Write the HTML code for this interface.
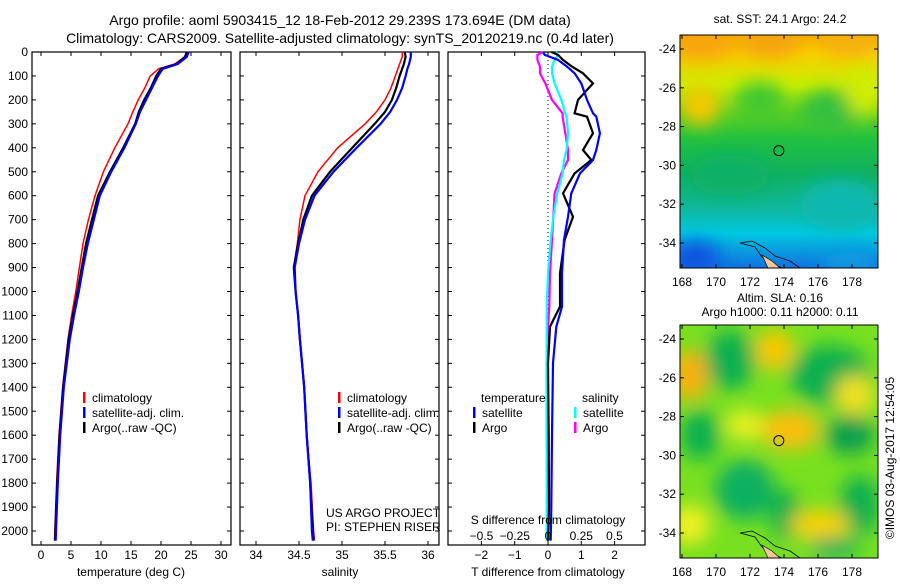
<!DOCTYPE html>
<html><head><meta charset="utf-8"><style>
body{margin:0;background:#fff;}
svg{font-family:"Liberation Sans",sans-serif;}
</style></head><body>
<svg id="c" width="900" height="580" xmlns="http://www.w3.org/2000/svg">
<defs>
<filter id="bl" x="-20%" y="-20%" width="140%" height="140%"><feGaussianBlur stdDeviation="9"/></filter>
<clipPath id="m1"><rect x="680" y="35" width="198" height="233"/></clipPath>
<clipPath id="m2"><rect x="680" y="325" width="198" height="233"/></clipPath>
<linearGradient id="g1" x1="0" y1="0" x2="0" y2="1">
<stop offset="0" stop-color="#f5a800"/><stop offset="0.08" stop-color="#f8d000"/><stop offset="0.22" stop-color="#c8ee00"/>
<stop offset="0.33" stop-color="#60d020"/><stop offset="0.45" stop-color="#20c040"/><stop offset="0.6" stop-color="#10b060"/>
<stop offset="0.75" stop-color="#10b8a0"/><stop offset="0.85" stop-color="#00c8e0"/><stop offset="1" stop-color="#1070e0"/>
</linearGradient>
</defs>
<text x="340" y="25" text-anchor="middle" font-size="14">Argo profile: aoml 5903415_12 18-Feb-2012 29.239S 173.694E (DM data)</text>
<text x="340" y="43" text-anchor="middle" font-size="14">Climatology: CARS2009. Satellite-adjusted climatology: synTS_20120219.nc (0.4d later)</text>
<g id="maps"></g>
<g id="panels"></g>
<text transform="translate(894,458) rotate(-90)" text-anchor="middle" font-size="12">©IMOS 03-Aug-2017 12:54:05</text>
</svg>
<script>
const NS="http://www.w3.org/2000/svg";
const depths=[0,20,50,70,100,150,200,250,300,400,500,600,700,800,900,1000,1100,1200,1400,1600,1800,2000,2040];
const tempArgo=[24.3,24.0,22.6,20.0,19.2,18.3,17.2,16.3,15.7,13.7,11.5,9.5,8.5,7.5,6.8,6.1,5.3,4.6,3.7,3.1,2.7,2.4,2.35];
const tempSat=[24.6,24.3,22.8,20.3,19.5,18.5,17.5,16.5,15.8,13.9,11.7,9.8,8.8,7.8,7.0,6.3,5.5,4.8,3.8,3.2,2.8,2.5,2.45];
const tempClim=[24.3,24.0,22.3,19.6,18.2,17.3,16.2,15.3,14.5,12.3,10.4,9.0,7.9,7.0,6.4,5.8,5.1,4.5,3.6,3.0,2.6,2.3,2.25];
const salArgo=[35.73,35.74,35.72,35.70,35.67,35.63,35.58,35.50,35.38,35.12,34.86,34.65,34.55,34.49,34.44,34.46,34.49,34.51,34.56,34.59,34.63,34.66,34.67];
const salSat=[35.80,35.80,35.78,35.76,35.74,35.70,35.64,35.56,35.45,35.17,34.90,34.68,34.57,34.50,34.45,34.46,34.49,34.51,34.56,34.59,34.63,34.65,34.66];
const salClim=[35.70,35.70,35.67,35.65,35.62,35.57,35.50,35.40,35.27,34.95,34.72,34.57,34.51,34.48,34.44,34.46,34.49,34.51,34.56,34.59,34.64,34.67,34.68];
const dDepths=[0,12,33,61,89,131,200,256,270,339,409,451,507,590,688,785,924,1063,1147,1300,1600,1900,2040];
const dTArgo=[0.1,0.3,0.45,0.72,1.05,1.35,0.9,0.8,1.17,1.35,1.05,1.3,0.8,0.45,0.75,0.5,0.36,0.36,0.06,0.0,0.02,0.03,0.0];
const dTSat=[-0.15,-0.1,0.3,0.57,0.8,1.0,1.17,1.35,1.45,1.56,1.45,1.35,0.96,0.7,0.6,0.48,0.42,0.42,0.25,0.15,0.12,0.1,0.08];
const dSArgo=[-0.04,-0.08,-0.08,-0.06,-0.06,-0.02,0.03,0.11,0.11,0.13,0.15,0.15,0.1,0.05,0.04,0.03,0.015,0.01,0.0,-0.01,-0.01,0.0,0.0];
const dSSat=[0.06,0.075,0.05,0.03,0.03,0.05,0.1,0.13,0.14,0.15,0.14,0.12,0.11,0.07,0.04,0.02,0.0,-0.01,-0.01,-0.01,-0.01,-0.01,-0.01];
const depthTicks=[0,100,200,300,400,500,600,700,800,900,1000,1100,1200,1300,1400,1500,1600,1700,1800,1900,2000];
const tTicks=[0,5,10,15,20,25,30];
const sTicks=[34,34.5,35,35.5,36];
const sTickLabels=["34","34.5","35","35.5","36"];
const dTTicks=[-2,-1,0,1,2];
const dSTicks=[-0.5,-0.25,0,0.25,0.5];
const dSTickLabels=["\u22120.5","\u22120.25","0","0.25","0.5"];
const lonTicks=[168,170,172,174,176,178];
const latTicks=[-24,-26,-28,-30,-32,-34];
const argoLon=173.694, argoLat=-29.239;

const Y=d=>52+d*0.2395;
const TOP=52,BOT=545;
function el(tag,attrs,parent,text){const e=document.createElementNS(NS,tag);for(const k in attrs)e.setAttribute(k,attrs[k]);if(text!==undefined)e.textContent=text;parent.appendChild(e);return e;}
const P=document.getElementById('panels');

function frame(x0,x1,name){
  const r=el('rect',{x:x0,y:TOP,width:x1-x0,height:BOT-TOP,fill:'#fff',stroke:'#000','stroke-width':1.2},P);
  
  
}
function line(xs,ds,X,color,w,name){
  const pts=xs.map((v,i)=>X(v).toFixed(1)+','+Y(ds[i]).toFixed(1)).join(' ');
  const p=el('polyline',{points:pts,fill:'none',stroke:color,'stroke-width':w,'stroke-linejoin':'miter'},P);
  
  
}
function xticks(ticks,labels,X,x0,x1,ly,name){
  ticks.forEach((t,i)=>{
    const x=X(t);
    el('line',{x1:x,x2:x,y1:BOT,y2:BOT-4,stroke:'#000'},P);
    el('line',{x1:x,x2:x,y1:TOP,y2:TOP+4,stroke:'#000'},P);
    const tx=el('text',{x:x,y:ly,'text-anchor':'middle','font-size':12},P,labels[i]);
    
    
  });
}
function yticks(x0,x1,labels){
  depthTicks.forEach(d=>{
    const y=Y(d);
    el('line',{x1:x0,x2:x0+4,y1:y,y2:y,stroke:'#000'},P);
    el('line',{x1:x1,x2:x1-4,y1:y,y2:y,stroke:'#000'},P);
    if(labels){const t=el('text',{x:x0-4,y:y+4,'text-anchor':'end','font-size':12},P,String(d));
      
      }
  });
}
function legend(x,y,items,name){
  items.forEach((it,i)=>{
    const yy=y+i*15;
    el('rect',{x:x,y:yy-9,width:2.5,height:11,fill:it[0]},P);
    const t=el('text',{x:x+9,y:yy+1,'font-size':12},P,it[1]);
    
    
  });
}
function label(x,y,txt,name,anchor){const t=el('text',{x:x,y:y,'font-size':12,'text-anchor':anchor||'middle'},P,txt);
  
  }

// Panel 1 temperature
const XT=t=>41+6*t;
frame(32,231,'temperature-panel');
yticks(32,231,true);
xticks(tTicks,tTicks.map(String),XT,32,231,559,'temperature');
line(tempClim,depths,XT,'#f00',1.5,'temperature-climatology-line');
line(tempArgo,depths,XT,'#000',2.2,'temperature-argo-line');
line(tempSat,depths,XT,'#00f',2.2,'temperature-satellite-line');
legend(83,401,[['#f00','climatology'],['#00f','satellite-adj. clim.'],['#000','Argo(..raw -QC)']],'temperature-legend');
label(131,576,'temperature (deg C)','temperature-axis-title');

// Panel 2 salinity
const XS=s=>256+86*(s-34);
frame(240,439,'salinity-panel');
yticks(240,439,false);
xticks(sTicks,sTickLabels,XS,240,439,559,'salinity');
line(salClim,depths,XS,'#f00',1.5,'salinity-climatology-line');
line(salArgo,depths,XS,'#000',2.2,'salinity-argo-line');
line(salSat,depths,XS,'#00f',2.2,'salinity-satellite-line');
legend(338,401,[['#f00','climatology'],['#00f','satellite-adj. clim.'],['#000','Argo(..raw -QC)']],'salinity-legend');
label(326,517,'US ARGO PROJECT','project-label','start');
label(326,531,'PI: STEPHEN RISER','pi-label','start');
label(340,576,'salinity','salinity-axis-title');

// Panel 3 differences
const XD=v=>548+33.3*v;
const XDS=v=>548+133*v;
frame(448,645,'difference-panel');
yticks(448,645,false);
xticks(dTTicks,dTTicks.map(v=>v<0?'\u2212'+(-v):String(v)),XD,448,645,559,'t-difference');
el('line',{x1:548,x2:548,y1:TOP,y2:BOT,stroke:'#000','stroke-dasharray':'1,3'},P);
line(dSArgo,dDepths,XDS,'#f0f',2.2,'salinity-argo-difference-line');
line(dSSat,dDepths,XDS,'#0ff',2.2,'salinity-satellite-difference-line');
line(dTArgo,dDepths,XD,'#000',2.2,'temperature-argo-difference-line');
line(dTSat,dDepths,XD,'#00f',2.2,'temperature-satellite-difference-line');
label(481,402,'temperature','diff-legend-temperature-header','start');
label(582,402,'salinity','diff-legend-salinity-header','start');
legend(473,416,[['#00f','satellite'],['#000','Argo']],'diff-legend-temperature');
legend(574,416,[['#0ff','satellite'],['#f0f','Argo']],'diff-legend-salinity');
label(548,524,'S difference from climatology','s-difference-axis-title');
dSTicks.forEach((t,i)=>{const tx=el('text',{x:XDS(t),y:540,'text-anchor':'middle','font-size':12},P,dSTickLabels[i]);
  
  });
label(548,576,'T difference from climatology','t-difference-axis-title');

// Maps
const M=document.getElementById('maps');
function drawMap(y0,clip,bgFill,blobs,name){
  const g=el('g',{'clip-path':'url(#'+clip+')'},M);
  
  
  el('rect',{x:680,y:y0,width:198,height:233,fill:bgFill},g);
  const bg2=el('g',{filter:'url(#bl)'},g);
  blobs.forEach(b=>el('ellipse',{cx:b[0],cy:y0+b[1],rx:b[2],ry:b[3],fill:b[4]},bg2));
  el('path',{d:`M740 ${y0+208} L755 ${y0+212} L762 ${y0+222} L770 ${y0+228} L782 ${y0+233} L800 ${y0+233} L790 ${y0+226} L775 ${y0+221} L765 ${y0+213} L752 ${y0+206} Z`,fill:'none',stroke:'#000','stroke-width':0.8},g);
  el('path',{d:`M762 ${y0+220} L772 ${y0+226} L780 ${y0+233} L768 ${y0+233} Z`,fill:'#f7c79a',stroke:'#000','stroke-width':0.6},g);
  const X=l=>682+17*(l-168), YY=l=>y0+14+19.4*(-24-l);
  el('rect',{x:680,y:y0,width:198,height:233,fill:'none',stroke:'#000','stroke-width':1},M);
  lonTicks.forEach(l=>{el('line',{x1:X(l),x2:X(l),y1:y0,y2:y0+4,stroke:'#000'},M);el('line',{x1:X(l),x2:X(l),y1:y0+233,y2:y0+229,stroke:'#000'},M);
    const t=el('text',{x:X(l),y:y0+251,'text-anchor':'middle','font-size':12},M,String(l));
    
    });
  latTicks.forEach(l=>{el('line',{x1:680,x2:684,y1:YY(l),y2:YY(l),stroke:'#000'},M);el('line',{x1:878,x2:874,y1:YY(l),y2:YY(l),stroke:'#000'},M);
    const t=el('text',{x:676,y:YY(l)+4,'text-anchor':'end','font-size':12},M,'-'+(-l));
    
    });
  const c=el('circle',{cx:X(argoLon),cy:YY(argoLat),r:5,fill:'none',stroke:'#000','stroke-width':1},M);
  
  
}
drawMap(35,'m1','url(#g1)',
 [[700,12,35,12,'#f8a010'],[770,10,30,12,'#f5a010'],[850,10,30,12,'#f5b010'],[700,70,20,20,'#f8c800'],[760,65,25,18,'#40c830'],[830,75,30,20,'#30c040'],[865,55,20,25,'#d0ec00'],[730,140,40,20,'#10b068'],[840,170,40,25,'#10b8b0'],[695,222,25,15,'#1050e0'],[850,228,30,10,'#10a0e0']],
 'sst-map');
label(780,23,'sat. SST: 24.1  Argo: 24.2','sst-map-title');
drawMap(325,'m2','#78e020',
 [[690,50,20,25,'#f8b010'],[730,35,25,30,'#10b050'],[775,25,20,20,'#f8c800'],[830,50,40,30,'#10b050'],[855,70,20,20,'#f0e020'],[700,110,20,25,'#10b050'],[790,105,30,20,'#f8c010'],[850,110,25,20,'#10a050'],[745,165,30,30,'#10b060'],[785,190,15,25,'#10b050'],[860,180,20,30,'#10b050'],[820,200,30,15,'#f8d000'],[745,100,20,15,'#e8f020'],[690,200,20,20,'#f0f020'],[835,222,25,10,'#10b060']],
 'sla-map');
label(780,302,'Altim. SLA: 0.16','sla-map-title');
label(780,316,'Argo h1000: 0.11 h2000: 0.11','sla-map-subtitle');
</script>
</body></html>
